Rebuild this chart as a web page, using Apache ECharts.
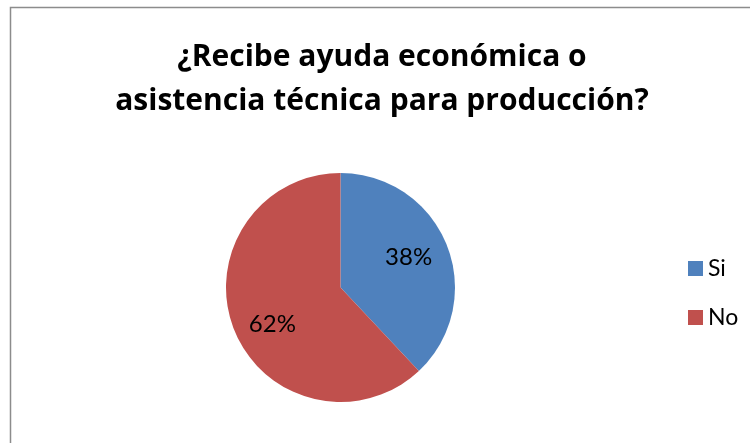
<!DOCTYPE html>
<html>
<head>
<meta charset="utf-8">
<script src="https://cdn.jsdelivr.net/npm/echarts@6/dist/echarts.min.js"></script>
<style>html,body{margin:0;padding:0;background:#fff}#c{width:750px;height:443px}</style>
</head>
<body>
<div id="c"></div>
<script>
const titleText = '¿Recibe ayuda económica o\nasistencia técnica para producción?';
const categories = ['Si', 'No'];
const values = [38, 62];
const colors = ['#4F81BD', '#C0504D'];
const labelNudges = [[0, -3], [0, 10]];

const chart = echarts.init(document.getElementById('c'), null, {renderer: 'canvas'});
const pieData = categories.map((n, i) => ({name: n, value: values[i], itemStyle: {color: colors[i]}}));
chart.setOption({
  animation: false,
  backgroundColor: '#fff',
  graphic: [{
    type: 'rect', shape: {x: 10.5, y: 7.5, width: 800, height: 500},
    style: {fill: 'none', stroke: '#8c8c8c', lineWidth: 1.5}, silent: true
  }],
  title: {
    text: titleText,
    left: 377, top: 30, textAlign: 'center',
    textStyle: {fontFamily: 'Open Sans', fontWeight: 'bold', fontSize: 30, lineHeight: 44, color: '#000'}
  },
  legend: {
    orient: 'vertical', left: 683, top: 252,
    itemWidth: 15, itemHeight: 15, itemGap: 26,
    icon: 'rect',
    data: categories,
    textStyle: {fontFamily: 'Lato', fontSize: 23, lineHeight: 22, color: '#000'}
  },
  series: [{
    type: 'pie', center: [340.5, 287.5], radius: [0, 114.5],
    startAngle: 90, clockwise: true, silent: true,
    label: {show: false}, labelLine: {show: false},
    data: pieData
  }, {
    type: 'pie', center: [340.5, 287.5], radius: [26, 114.5],
    startAngle: 90, clockwise: true, silent: true, legendHoverLink: false,
    itemStyle: {color: 'rgba(0,0,0,0)'},
    label: {show: true, position: 'inside', formatter: '{d}%', fontFamily: 'Lato', fontSize: 24, color: '#000'},
    labelLine: {show: false},
    data: categories.map((n, i) => ({name: n, value: values[i], itemStyle: {color: 'rgba(0,0,0,0)'}, label: {offset: labelNudges[i]}}))
  }]
});
</script>
</body>
</html>
